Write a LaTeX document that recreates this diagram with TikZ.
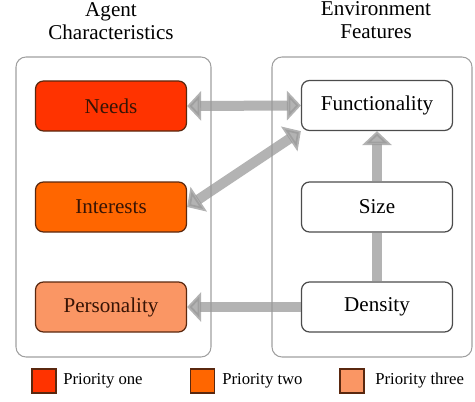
\documentclass[tikz,border=0pt]{standalone}
\usepackage{fontspec}
\setmainfont{Liberation Serif}
\usetikzlibrary{arrows.meta}

\definecolor{prioone}{RGB}{255,51,0}
\definecolor{priotwo}{RGB}{255,102,0}
\definecolor{priothree}{RGB}{250,150,100}
\definecolor{boxedge}{RGB}{90,40,15}
\definecolor{boxtext}{RGB}{55,20,5}
\definecolor{groupedge}{RGB}{160,160,160}

\begin{document}
\begin{tikzpicture}[
	font=\fontsize{12}{13}\selectfont,
	group/.style={draw=groupedge, rounded corners=0.2cm, line width=0.6pt},
	agentbox/.style={draw=boxedge, text=boxtext, rounded corners=0.16cm, line width=0.7pt,
		minimum width=3.02cm, minimum height=1cm, inner sep=0pt},
	envbox/.style={draw=black!70, fill=white, rounded corners=0.16cm, line width=0.7pt,
		minimum width=3.02cm, minimum height=1cm, inner sep=0pt},
	swatch/.style={draw=boxedge, line width=0.6pt, minimum size=0.48cm, inner sep=0pt},
	legendtext/.style={font=\fontsize{9.5}{11}\selectfont, anchor=west, inner sep=0pt},
	link/.style={draw=black!40, line width=0.2cm, opacity=0.75},
	linkhead/.style={-{Triangle[width=0.58cm, length=0.28cm]}, link},
	linkboth/.style={{Triangle[width=0.58cm, length=0.28cm]}-{Triangle[width=0.58cm, length=0.28cm]}, link}
	]
	\useasboundingbox (0,0) rectangle (9.5,8.02);

	%titles
	\node[align=center] (agenttitle) at (2.22,7.6)	{Agent\\Characteristics};
	\node[align=center] (envtitle) at (7.52,7.62)	{Environment\\Features};

	%groups
	\draw[group]	(0.32,0.88) rectangle (4.22,6.88);	%agent
	\draw[group]	(5.44,0.88) rectangle (9.44,6.88);	%environment

	%agent characteristics
	\node[agentbox, fill=prioone]	(needs) at (2.22,5.9)			{Needs};
	\node[agentbox, fill=priotwo]	(interests) at (2.22,3.88)		{Interests};
	\node[agentbox, fill=priothree]	(personality) at (2.22,1.88)	{Personality};

	%environment features
	\node[envbox]	(functionality) at (7.54,5.91)	{Functionality};
	\node[envbox]	(size) at (7.54,3.88)			{Size};
	\node[envbox]	(density) at (7.54,1.88)		{Density};

	%links
	\draw[linkboth]	(needs.east) -- (functionality.west);
	\draw[linkboth]	(interests.east) -- (functionality.south west);
	\draw[linkhead]	(density.west) -- (personality.east);
	\draw[link]		(density.north) -- (size.south);
	\draw[linkhead]	(size.north) -- (functionality.south);

	%legend
	\node[swatch, fill=prioone]		(keyone) at (0.88,0.4)		{};
	\node[swatch, fill=priotwo]		(keytwo) at (4.05,0.4)		{};
	\node[swatch, fill=priothree]	(keythree) at (7.04,0.4)	{};
	\node[legendtext] (labelone) at (1.26,0.4)		{Priority one};
	\node[legendtext] (labeltwo) at (4.44,0.4)		{Priority two};
	\node[legendtext] (labelthree) at (7.5,0.4)	{Priority three};
\end{tikzpicture}
\end{document}
